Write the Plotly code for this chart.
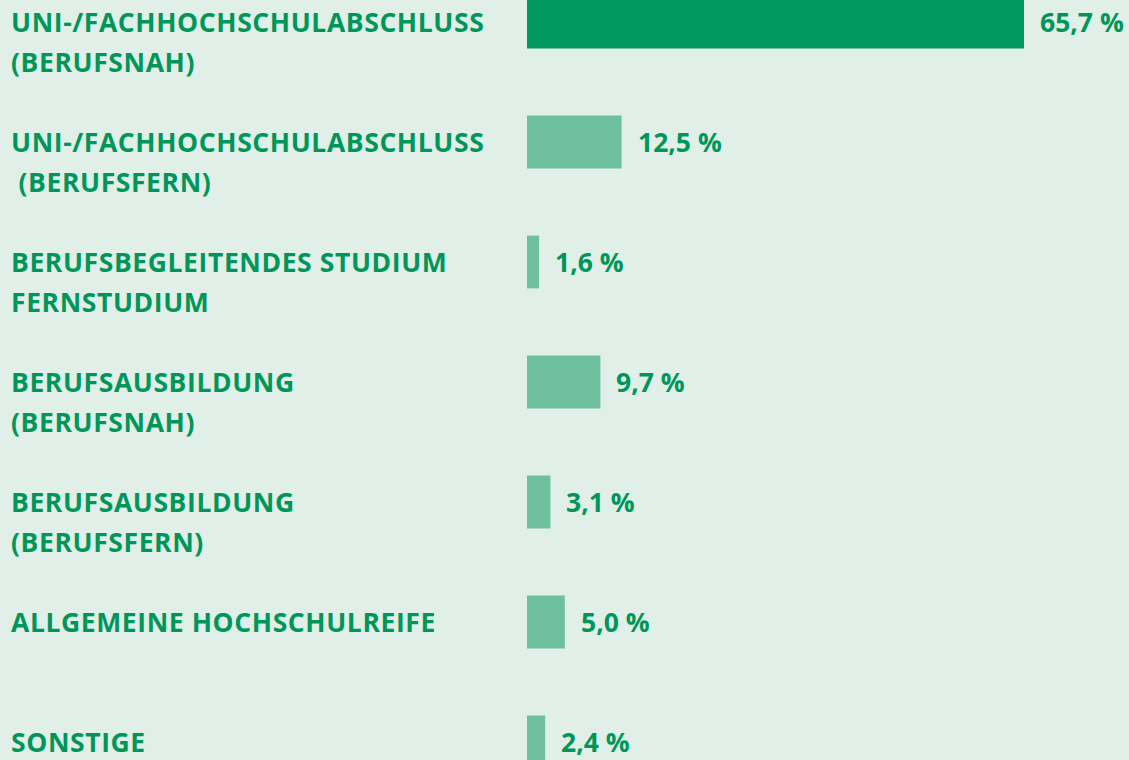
import plotly.graph_objects as go

line1 = ["UNI-/FACHHOCHSCHULABSCHLUSS", "UNI-/FACHHOCHSCHULABSCHLUSS", "BERUFSBEGLEITENDES STUDIUM",
         "BERUFSAUSBILDUNG", "BERUFSAUSBILDUNG", "ALLGEMEINE HOCHSCHULREIFE", "SONSTIGE"]
line2 = ["(BERUFSNAH)", " (BERUFSFERN)", "FERNSTUDIUM", "(BERUFSNAH)", "(BERUFSFERN)", "", ""]
values = [65.7, 12.5, 1.6, 9.7, 3.1, 5.0, 2.4]
value_labels = ["65,7 %", "12,5 %", "1,6 %", "9,7 %", "3,1 %", "5,0 %", "2,4 %"]

BG = "#e0efe8"
TXT = "#00965a"
DARK = "#009a5f"
LIGHT = "#6fc09e"
FONT = "Open Sans"
FS = 26.5

pos = list(range(len(values)))
colors = [DARK] + [LIGHT] * (len(values) - 1)

fig = go.Figure()
fig.add_trace(go.Bar(x=values, y=pos, orientation="h", marker=dict(color=colors, line_width=0),
                     width=0.44, hoverinfo="skip"))

W, H = 1129, 760
x0px = 527
pxper = 497 / 65.7
xrange = [-x0px / pxper, (W - x0px) / pxper]
yrange = [(H - 22) / 120, -22 / 120]


def spaced(t, ls):
    return '<span style="letter-spacing:%spx">%s</span>' % (ls, t.replace(" ", "&nbsp;"))


ann = []
for i in pos:
    ann.append(dict(x=9 / W, xref="paper", y=i, yref="y", text=spaced(line1[i], 0.6), showarrow=False,
                    xanchor="left", yanchor="middle", font=dict(family=FONT, size=FS, color=TXT)))
    if line2[i].strip():
        ann.append(dict(x=9 / W, xref="paper", y=i, yref="y", yshift=-40,
                        text=spaced(line2[i], 0.6), showarrow=False,
                        xanchor="left", yanchor="middle", font=dict(family=FONT, size=FS, color=TXT)))
    ann.append(dict(x=values[i], xref="x", y=i, yref="y", text=spaced(value_labels[i], 0), showarrow=False,
                    xanchor="left", yanchor="middle", xshift=14,
                    font=dict(family=FONT, size=FS, color=TXT)))

fig.update_layout(
    width=W, height=H, margin=dict(l=0, r=0, t=0, b=0),
    paper_bgcolor=BG, plot_bgcolor=BG, showlegend=False,
    xaxis=dict(range=xrange, visible=False, fixedrange=True),
    yaxis=dict(range=yrange, visible=False, fixedrange=True),
    annotations=ann, font=dict(family=FONT),
)
fig.update_annotations(font_weight="bold")
fig.write_html("out.html", config={"displayModeBar": False},
               post_script="document.body.style.margin='0';document.body.style.background='%s';" % BG)
